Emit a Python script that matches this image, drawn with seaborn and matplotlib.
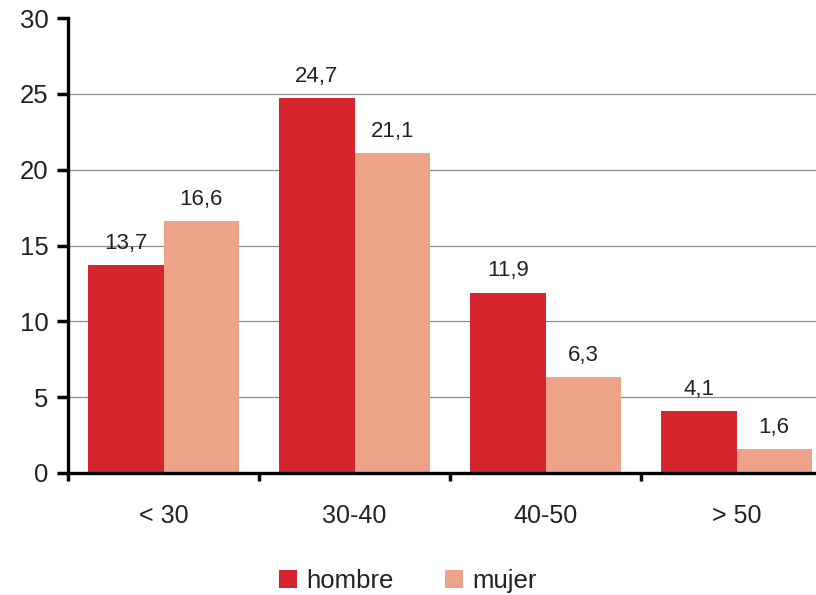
import matplotlib
matplotlib.use("Agg")
import matplotlib.pyplot as plt
import seaborn as sns
import pandas as pd
import numpy as np

categories = ["< 30", "30-40", "40-50", "> 50"]
hombre = [13.7, 24.7, 11.9, 4.1]
mujer = [16.6, 21.1, 6.3, 1.6]
series_names = ["hombre", "mujer"]
colors = ["#D52630", "#EDA38A"]
yticks = [0, 5, 10, 15, 20, 25, 30]

df = pd.DataFrame({
    "cat": categories * 2,
    "val": hombre + mujer,
    "sexo": [series_names[0]] * 4 + [series_names[1]] * 4,
})

sns.set_theme(style="white")
plt.rcParams["font.family"] = ["Liberation Sans", "DejaVu Sans"]

fig = plt.figure(figsize=(8.16, 5.95), dpi=100)
ax = fig.add_axes([68 / 816, 1 - 473 / 595, 764 / 816, 455 / 595])

sns.barplot(data=df, x="cat", y="val", hue="sexo", order=categories,
            hue_order=series_names, palette=colors, width=0.79, gap=0,
            saturation=1, linewidth=0, ax=ax, legend=True)

ax.set_xlim(-0.5, 3.5)
ax.set_ylim(0, 30)
ax.set_yticks(yticks)
ax.set_yticklabels([str(t) for t in yticks], fontsize=18.5, color="#222222")
for t in yticks[1:-1]:
    ax.axhline(t, color="#8a8a8a", linewidth=0.9, zorder=0)

for cont, vals in zip(ax.containers, [hombre, mujer]):
    ax.bar_label(cont, labels=[f"{v:.1f}".replace(".", ",") for v in vals],
                 padding=8, fontsize=16, color="#222222")

ax.set_xlabel("")
ax.set_ylabel("")
ax.set_xticks(range(len(categories)))
ax.set_xticklabels(categories, fontsize=18, color="#222222")
ax.set_xticks([i - 0.5 for i in range(len(categories) + 1)], minor=True)
ax.tick_params(axis="x", which="major", length=0, pad=22)
ax.tick_params(axis="x", which="minor", length=6, width=2.5, direction="out", color="black", bottom=True)
ax.tick_params(axis="y", which="major", length=8, width=2.5, direction="out", color="black", left=True, pad=6)

for s in ["top", "right"]:
    ax.spines[s].set_visible(False)
for s in ["left", "bottom"]:
    ax.spines[s].set_color("black")
    ax.spines[s].set_linewidth(2.4)

handles, labels = ax.get_legend_handles_labels()
ax.get_legend().remove()
fig.legend(handles, labels, loc="center", bbox_to_anchor=(0.5, 1 - 581 / 595),
           ncol=2, frameon=False, fontsize=18.5, handlelength=0.7, handleheight=0.7,
           handletextpad=0.35, columnspacing=2.0, labelcolor="#222222")

fig.savefig("out.png", dpi=100)
